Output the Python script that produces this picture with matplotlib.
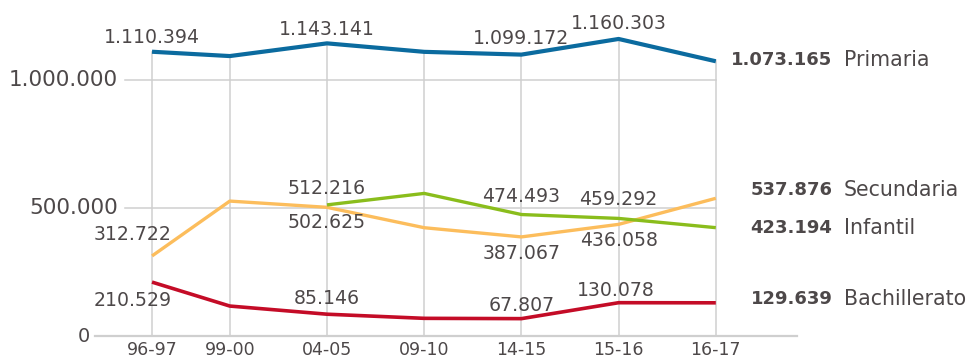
import numpy as np
import matplotlib
matplotlib.use("Agg")
import matplotlib.pyplot as plt

# ---------------------------------------------------------------------------
# Data
# ---------------------------------------------------------------------------
cursos = ["96-97", "99-00", "04-05", "09-10", "14-15", "15-16", "16-17"]

primaria     = [1110394, 1093500, 1143141, 1110000, 1099172, 1160303, 1073165]
secundaria   = [312722, 527000, 502625, 423000, 387067, 436058, 537876]
infantil     = [np.nan, np.nan, 512216, 557000, 474493, 459292, 423194]
bachillerato = [210529, 117000, 85146, 69000, 67807, 130078, 129639]

names = ["Primaria", "Secundaria", "Infantil", "Bachillerato"]

# x positions of the categories (first gap is narrower in the original)
x_pos = np.array([0, 0.8, 1.8, 2.8, 3.8, 4.8, 5.8])

C_BLUE, C_ORANGE, C_GREEN, C_RED = "#0b6b9f", "#fcbd5c", "#8abd1c", "#c40c27"
C_TEXT, C_GRID = "#4d4849", "#cfcfcf"

fig = plt.figure(figsize=(9.7, 3.58), dpi=100)
ax = fig.add_axes([0, 0, 1, 1])
ax.set_xlim(-1.564, 8.415)
ax.set_ylim(-85937, 1312500)
ax.axis("off")

# grid
for xi, top in zip(x_pos, primaria):
    ax.plot([xi, xi], [0, top], color=C_GRID, lw=1.1, zorder=1)
ax.plot([-0.586, 6.636], [0, 0], color=C_GRID, lw=1.6, zorder=1)
for yv in (500000, 1000000):
    ax.plot([-0.278, x_pos[-1]], [yv, yv], color=C_GRID, lw=1.1, zorder=1)

ax.text(-0.35, 1000000, "1.000.000", ha="right", va="center", fontsize=15.5, color=C_TEXT)
ax.text(-0.35, 500000, "500.000", ha="right", va="center", fontsize=15.5, color=C_TEXT)
ax.text(-0.64, 0, "0", ha="right", va="center", fontsize=14, color=C_TEXT)

# lines
ax.plot(x_pos, primaria, color=C_BLUE, lw=3.0, solid_capstyle="butt", zorder=3)
ax.plot(x_pos, secundaria, color=C_ORANGE, lw=2.4, solid_capstyle="butt", zorder=3)
ax.plot(x_pos, infantil, color=C_GREEN, lw=2.4, solid_capstyle="butt", zorder=3)
ax.plot(x_pos, bachillerato, color=C_RED, lw=2.6, solid_capstyle="butt", zorder=3)

def fmt(v):
    return f"{int(v):,}".replace(",", ".")

def lab(i, v, dx, dy):
    ax.text(x_pos[i] + dx, v + dy, fmt(v), ha="center", va="center",
            fontsize=13.6, color=C_TEXT, zorder=4)

# value labels
lab(0, primaria[0], 0, 55000)
lab(2, primaria[2], 0, 56000)
lab(4, primaria[4], 0, 62000)
lab(5, primaria[5], 0, 62000)

lab(0, secundaria[0], -0.2, 82000)
lab(2, secundaria[2], 0, -60000)
lab(4, secundaria[4], 0, -65000)
lab(5, secundaria[5], 0, -62000)

lab(2, infantil[2], 0, 64000)
lab(4, infantil[4], 0, 72000)
lab(5, infantil[5], 0, 72000)

lab(0, bachillerato[0], -0.2, -70000)
lab(2, bachillerato[2], 0, 60000)
lab(4, bachillerato[4], 0, 50000)
lab(5, bachillerato[5], -0.03, 48000)

# end labels
end_y = [1078000, 570000, 422000, 146000]
end_v = [primaria[-1], secundaria[-1], infantil[-1], bachillerato[-1]]
for name, yv, v in zip(names, end_y, end_v):
    ax.text(7.0, yv, fmt(v), ha="right", va="center", fontsize=13,
            fontweight="bold", color=C_TEXT)
    ax.text(7.12, yv, name, ha="left", va="center", fontsize=14.8, color=C_TEXT)

# x tick labels
for xi, c in zip(x_pos, cursos):
    ax.text(xi, -55000, c, ha="center", va="center", fontsize=12.5, color=C_TEXT)

fig.savefig("out.png", dpi=100)
